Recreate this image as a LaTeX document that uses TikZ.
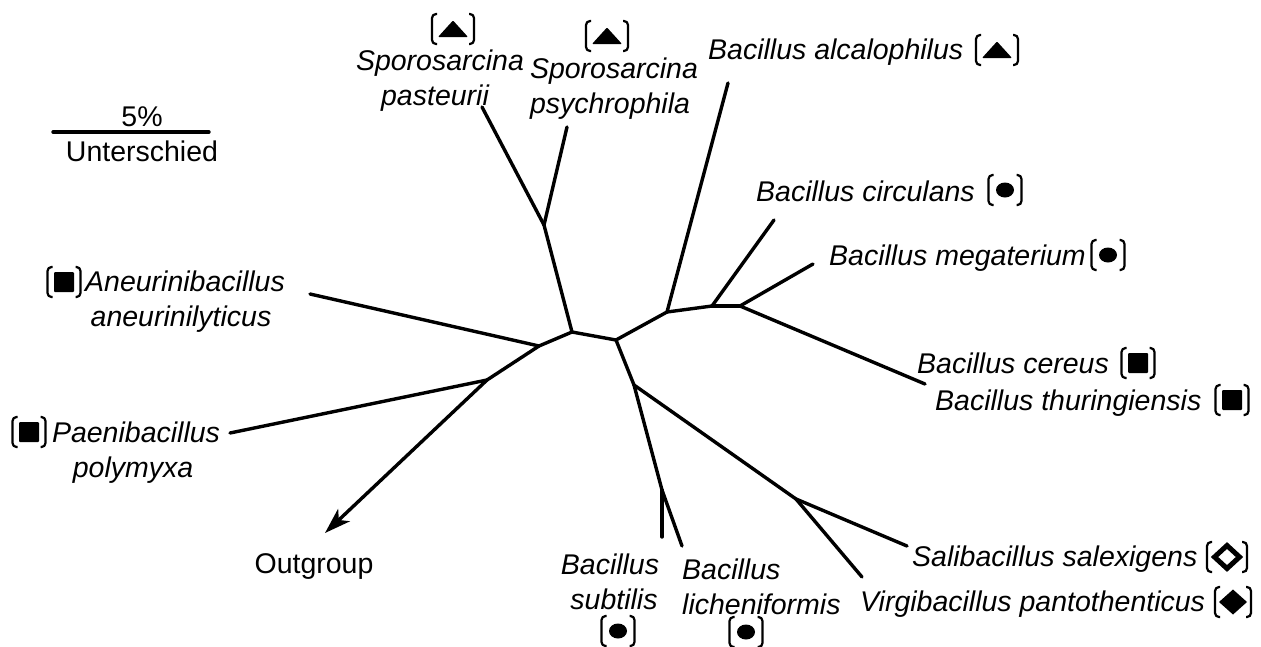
\documentclass[tikz,border=0pt]{standalone}
\usepackage{fontspec}
\setmainfont{Liberation Sans}
\usetikzlibrary{arrows.meta}
\newcommand\brkt[1]{%
  \draw[line width=2.2pt,rounded corners=4pt] (-#1+5,-15) -- (-#1,-15) -- (-#1,15) -- (-#1+5,15);
  \draw[line width=2.2pt,rounded corners=4pt] (#1-5,-15) -- (#1,-15) -- (#1,15) -- (#1-5,15);}
\tikzset{
  x=1pt,y=-1pt,
  branch/.style={line width=3.4pt,line cap=round,line join=round},
  lbl/.style={font=\fontsize{28.5}{35}\selectfont,inner sep=0pt,align=center,text height=20pt,text depth=6pt},
  sp/.style={lbl,font=\fontsize{28.5}{35}\selectfont\itshape},
  pics/tribr/.style={code={\brkt{21}\fill[rounded corners=1pt] (-15,8) -- (0,-8.5) -- (15,8) -- cycle;}},
  pics/dotbr/.style={code={\brkt{16.5}\fill (0,0) ellipse (9pt and 7.5pt);}},
  pics/sqbr/.style={code={\brkt{16.5}\fill[rounded corners=1pt] (-10,-10) rectangle (10,10);}},
  pics/opendia/.style={code={\brkt{20}\draw[line width=5pt,miter limit=10] (-12.5,0) -- (0,-11.5) -- (12.5,0) -- (0,11.5) -- cycle;}},
  pics/filldia/.style={code={\brkt{18}\fill (-14,0) -- (0,-12.5) -- (14,0) -- (0,12.5) -- cycle;}},
}
\begin{document}
\begin{tikzpicture}
\useasboundingbox (0,0) rectangle (1261,646);
% tree coordinates
\coordinate (a) at (572,332);
\coordinate (b) at (616,340);
\coordinate (c) at (539,346);
\coordinate (d) at (487,380);
\coordinate (e) at (544,225);
\coordinate (f) at (667,312);
\coordinate (g) at (712,306);
\coordinate (h) at (740,306);
\coordinate (i) at (634,385);
\coordinate (j) at (662,490);
\coordinate (k) at (796,499);
\coordinate (lOut) at (325,533);
\coordinate (lPae) at (230,433);
\coordinate (lAne) at (310,294);
\coordinate (lPas) at (482,107);
\coordinate (lPsy) at (567,127);
\coordinate (lAlc) at (728,83);
\coordinate (lCir) at (774,220);
\coordinate (lMeg) at (813,264);
\coordinate (lCer) at (925,384);
\coordinate (lSub) at (662,537);
\coordinate (lLic) at (682,546);
\coordinate (lSal) at (907,546);
\coordinate (lVir) at (862,577);
\coordinate (sL) at (53,132);
\coordinate (sR) at (209,132);
% branches
\draw[branch] (a) -- (b);
\draw[branch] (a) -- (c);
\draw[branch] (c) -- (d);
\draw[branch,-{Stealth[length=26pt,width=17pt,inset=7pt]}] (d) -- (lOut);
\draw[branch] (d) -- (lPae);
\draw[branch] (c) -- (lAne);
\draw[branch] (a) -- (e);
\draw[branch] (e) -- (lPas);
\draw[branch] (e) -- (lPsy);
\draw[branch] (b) -- (f);
\draw[branch] (f) -- (g);
\draw[branch] (g) -- (h);
\draw[branch] (f) -- (lAlc);
\draw[branch] (g) -- (lCir);
\draw[branch] (h) -- (lMeg);
\draw[branch] (h) -- (lCer);
\draw[branch] (b) -- (i);
\draw[branch] (i) -- (j);
\draw[branch] (j) -- (lSub);
\draw[branch] (j) -- (lLic);
\draw[branch] (i) -- (k);
\draw[branch] (k) -- (lSal);
\draw[branch] (k) -- (lVir);
\draw[branch] (sL) -- (sR);
% text
\node[lbl] (t5) at (142,119) {5\%};
\node[lbl] (tUn) at (142,154) {Unterschied};
\node[lbl] (tOut) at (314,566) {Outgroup};
\node[sp] (tPas) at (440,98) {Sporosarcina\\\hspace*{-10pt}pasteurii};
\node[sp] (tPsy) at (614,106) {Sporosarcina\\\hspace*{-8pt}psychrophila};
\node[sp,anchor=west] (tAlc) at (708,52) {Bacillus alcalophilus};
\node[sp,anchor=west] (tCir) at (756,194) {Bacillus circulans};
\node[sp,anchor=west] (tMeg) at (829,258) {Bacillus megaterium};
\node[sp,anchor=west] (tCer) at (917,366) {Bacillus cereus};
\node[sp,anchor=west] (tThu) at (935,403) {Bacillus thuringiensis};
\node[sp,anchor=west] (tSal) at (912,559) {Salibacillus salexigens};
\node[sp,anchor=west] (tVir) at (860,604) {Virgibacillus pantothenticus};
\node[sp] (tSub) at (610,602) {Bacillus\\\hspace*{8pt}subtilis};
\node[sp,anchor=west,align=left] (tLic) at (682,607) {Bacillus\\licheniformis};
\node[sp] (tAne) at (185,319) {Aneurinibacillus\\\hspace*{-8pt}aneurinilyticus};
\node[sp] (tPae) at (136,470) {Paenibacillus\\\hspace*{-6pt}polymyxa};
% symbols
\pic (sPas) at (453,29) {tribr};
\pic (sPsy) at (607,36) {tribr};
\pic (sAlc) at (997,50) {tribr};
\pic (sCir) at (1005,190) {dotbr};
\pic (sMeg) at (1108,255) {dotbr};
\pic (sSub) at (618,631) {dotbr};
\pic (sLic) at (746,632) {dotbr};
\pic (sCer) at (1138,363) {sqbr};
\pic (sThu) at (1232,400) {sqbr};
\pic (sAne) at (64,282) {sqbr};
\pic (sPae) at (29,432) {sqbr};
\pic (sSal) at (1227,557) {opendia};
\pic (sVir) at (1233,602) {filldia};
\end{tikzpicture}
\end{document}
